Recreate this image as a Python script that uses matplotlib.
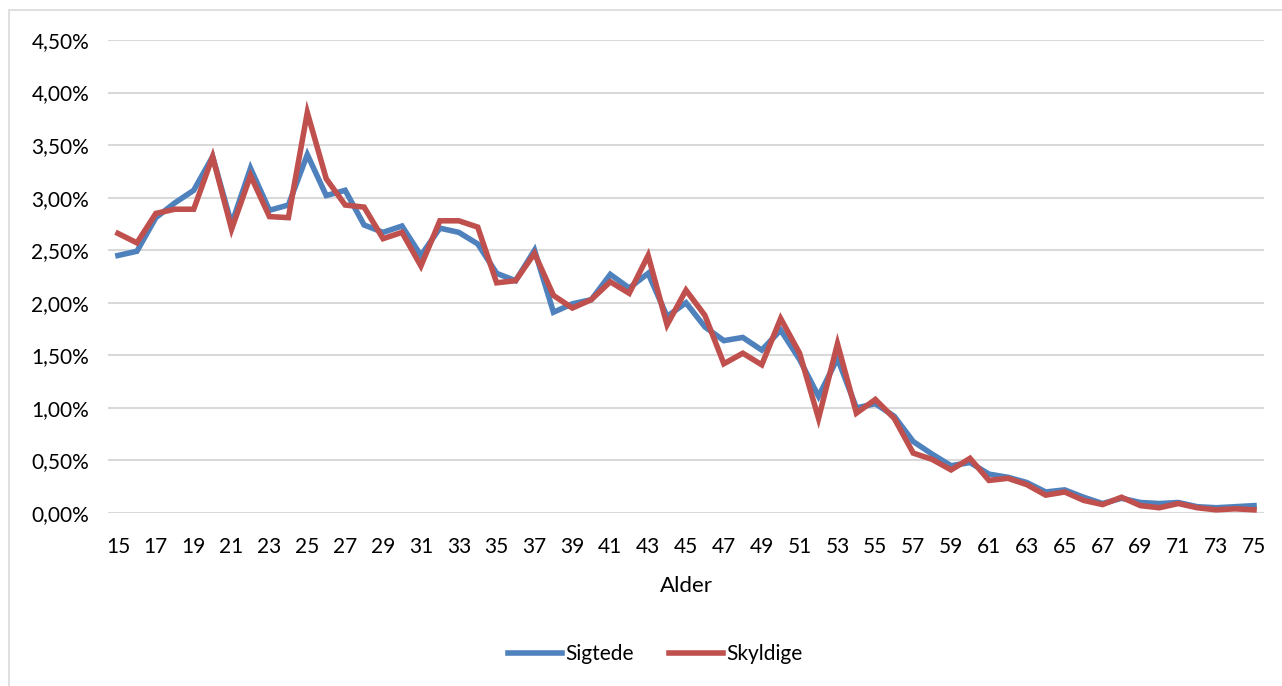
import matplotlib.pyplot as plt
from matplotlib.patches import Rectangle
from matplotlib.ticker import FuncFormatter

plt.rcParams['font.family'] = ['Lato', 'DejaVu Sans']

# Alder 15..75 og andel i procent
ages = list(range(15, 76))
sigtede = [2.45, 2.49, 2.81, 2.95, 3.07, 3.39, 2.75, 3.28, 2.88, 2.93,
           3.41, 3.02, 3.07, 2.74, 2.67, 2.73, 2.45, 2.71, 2.67, 2.56,
           2.28, 2.21, 2.50, 1.91, 1.99, 2.03, 2.27, 2.14, 2.28, 1.87,
           2.00, 1.77, 1.64, 1.67, 1.55, 1.74, 1.46, 1.11, 1.47, 1.00,
           1.04, 0.92, 0.68, 0.56, 0.45, 0.48, 0.37, 0.34, 0.29, 0.20,
           0.22, 0.15, 0.09, 0.14, 0.10, 0.09, 0.10, 0.06, 0.05, 0.06,
           0.07]
skyldige = [2.66, 2.57, 2.85, 2.89, 2.89, 3.39, 2.70, 3.21, 2.82, 2.81,
            3.81, 3.18, 2.93, 2.91, 2.61, 2.67, 2.35, 2.78, 2.78, 2.72,
            2.19, 2.21, 2.47, 2.07, 1.95, 2.03, 2.20, 2.09, 2.45, 1.79,
            2.12, 1.88, 1.42, 1.52, 1.41, 1.85, 1.52, 0.90, 1.61, 0.95,
            1.08, 0.90, 0.57, 0.51, 0.41, 0.52, 0.31, 0.33, 0.27, 0.17,
            0.20, 0.12, 0.08, 0.15, 0.07, 0.05, 0.09, 0.05, 0.03, 0.04,
            0.03]
yticks = [0, 0.5, 1.0, 1.5, 2.0, 2.5, 3.0, 3.5, 4.0, 4.5]
xticks = list(range(15, 76, 2))

W, H = 1282, 686
fig = plt.figure(figsize=(W / 100, H / 100), dpi=100)

# grå ramme rundt om diagrammet
fig.patches.append(Rectangle((9 / W, -0.05), 1.1, 1 - 10 / H + 0.05,
                             transform=fig.transFigure, fill=False,
                             edgecolor='#d9d9d9', linewidth=1.2))

ax = fig.add_axes([108.5 / W, (H - 513) / H, 1155 / W, 473 / H])

blue = '#4f81bd'
red = '#c0504d'
ax.plot(ages, sigtede, color=blue, lw=4.0, label='Sigtede',
        solid_joinstyle='miter', clip_on=False, zorder=3)
ax.plot(ages, skyldige, color=red, lw=4.0, label='Skyldige',
        solid_joinstyle='miter', clip_on=False, zorder=4)

ax.set_xlim(14.5, 75.5)
ax.set_ylim(0, 4.5)
ax.set_yticks(yticks)
ax.set_xticks(xticks)
ax.yaxis.set_major_formatter(FuncFormatter(lambda v, p: f'{v:.2f}'.replace('.', ',') + '%'))
ax.grid(axis='y', color='#d9d9d9', lw=1.5)
ax.set_axisbelow(True)
for s in ax.spines.values():
    s.set_visible(False)
ax.tick_params(length=0, labelsize=15, colors='black')
ax.tick_params(axis='y', pad=14)
ax.tick_params(axis='x', pad=17)
ax.set_xlabel('Alder', fontsize=16, labelpad=14)

fig.legend(loc='center', bbox_to_anchor=(655 / W, 1 - 654 / H), ncol=2,
           frameon=False, fontsize=15, handlelength=2.6,
           handletextpad=0.15, columnspacing=1.7)

fig.savefig('out.png', dpi=100)
